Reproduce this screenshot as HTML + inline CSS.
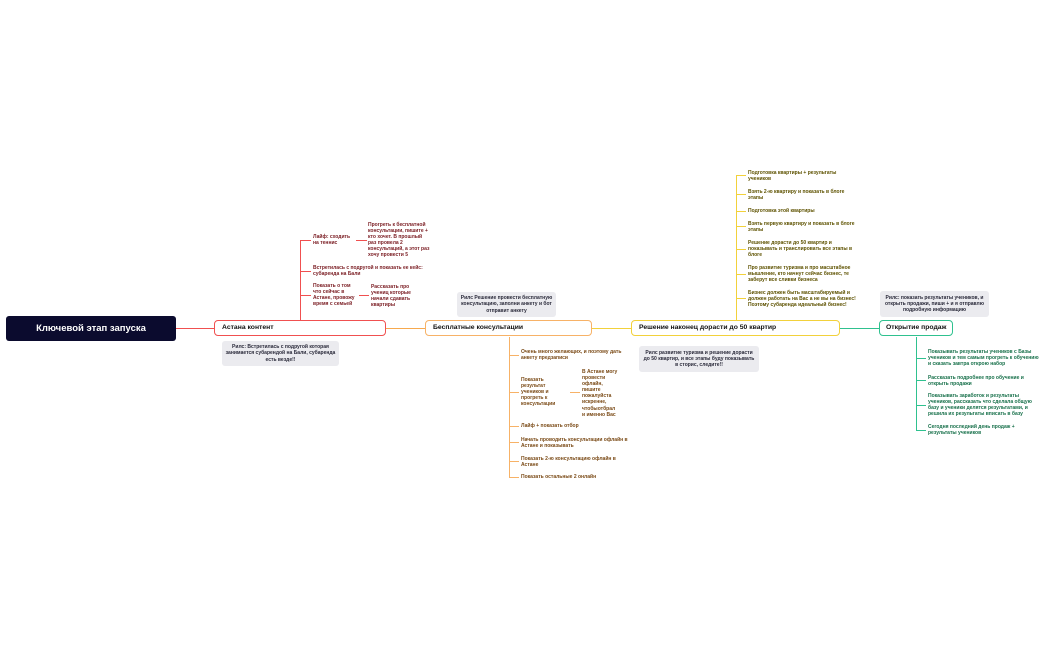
<!DOCTYPE html>
<html><head><meta charset="utf-8"><style>
body{margin:0;width:1049px;height:650px;background:#fff;position:relative;overflow:hidden;font-family:"Liberation Sans","DejaVu Sans",sans-serif}
.a{position:absolute}
.t{position:absolute;font-size:5px;line-height:6.1px;font-weight:bold}
.r{color:#7a1c22}.o{color:#7a4a16}.y{color:#5e5200}.g{color:#17704a}
.n{position:absolute;height:14px;border:1.6px solid;border-radius:4px;background:#fff;font-size:6.8px;font-weight:bold;line-height:14px;padding-left:7px;box-sizing:content-box;color:#111;white-space:nowrap}
.note{position:absolute;background:#ebebef;border-radius:3px;font-size:5px;line-height:6.1px;font-weight:bold;color:#2a2a3a;text-align:center;display:flex;align-items:center;justify-content:center}
.l{position:absolute}
</style></head><body>
<div class="l" style="left:176px;top:328px;width:38px;height:1px;background:#f05050"></div>
<div class="l" style="left:386px;top:328px;width:39px;height:1px;background:#f7a94e"></div>
<div class="l" style="left:592px;top:328px;width:39px;height:1px;background:#f2d13b"></div>
<div class="l" style="left:840px;top:328px;width:39px;height:1px;background:#2fc18f"></div>

<div class="a" style="left:6px;top:316px;width:170px;height:25px;background:#0b0b2e;border-radius:3px;color:#fff;font-size:9.5px;font-weight:bold;line-height:25px;text-align:center">Ключевой этап запуска</div>

<div class="n" style="left:214px;top:320px;width:163px;border-color:#f05050">Астана контент</div>
<div class="n" style="left:425px;top:320px;width:158px;border-color:#f7b267">Бесплатные консультации</div>
<div class="n" style="left:631px;top:320px;width:200px;border-color:#f2d13b">Решение наконец дорасти до 50 квартир</div>
<div class="n" style="left:879px;top:320px;width:66px;padding-left:6px;border-color:#2fc18f">Открытие продаж</div>

<div class="l" style="left:300px;top:240px;width:1px;height:80px;background:#f05050"></div>
<div class="l" style="left:300px;top:240px;width:11px;height:1px;background:#f05050"></div>
<div class="l" style="left:300px;top:271px;width:11px;height:1px;background:#f05050"></div>
<div class="l" style="left:300px;top:295px;width:11px;height:1px;background:#f05050"></div>
<div class="l" style="left:356px;top:240px;width:11px;height:1px;background:#f05050"></div>
<div class="l" style="left:359px;top:295px;width:10px;height:1px;background:#f05050"></div>
<div class="t r" style="left:313px;top:234px">Лайф: сходить<br>на теннис</div>
<div class="t r" style="left:368px;top:222px">Прогреть к бесплатной<br>консультации, пишите +<br>кто хочет. В прошлый<br>раз провела 2<br>консультаций, а этот раз<br>хочу провести 5</div>
<div class="t r" style="left:313px;top:265px">Встретилась с подругой и показать ее кейс:<br>субаренда на Бали</div>
<div class="t r" style="left:313px;top:283px">Показать о том<br>что сейчас в<br>Астане, провожу<br>время с семьей</div>
<div class="t r" style="left:371px;top:284px">Рассказать про<br>учениц которые<br>начали сдавать<br>квартиры</div>
<div class="note" style="left:222px;top:341px;width:117px;height:25px">Рилс: Встретилась с подругой которая<br>занимается субарендой на Бали, субаренда<br>есть везде!!</div>

<div class="note" style="left:457px;top:292px;width:99px;height:25px">Рилс Решение провести бесплатную<br>консультацию, заполни анкету и бот<br>отправит анкету</div>
<div class="l" style="left:509px;top:337px;width:1px;height:141px;background:#f7b267"></div>
<div class="l" style="left:509px;top:355px;width:10px;height:1px;background:#f7b267"></div>
<div class="l" style="left:509px;top:392px;width:10px;height:1px;background:#f7b267"></div>
<div class="l" style="left:509px;top:426px;width:10px;height:1px;background:#f7b267"></div>
<div class="l" style="left:509px;top:442px;width:10px;height:1px;background:#f7b267"></div>
<div class="l" style="left:509px;top:461px;width:10px;height:1px;background:#f7b267"></div>
<div class="l" style="left:509px;top:477px;width:10px;height:1px;background:#f7b267"></div>
<div class="l" style="left:570px;top:392px;width:10px;height:1px;background:#f7b267"></div>
<div class="t o" style="left:521px;top:349px">Очень много желающих, и поэтому дать<br>анкету предзаписи</div>
<div class="t o" style="left:521px;top:377px">Показать<br>результат<br>учеников и<br>прогреть к<br>консультации</div>
<div class="t o" style="left:582px;top:369px">В Астане могу<br>провести<br>офлайн,<br>пишите<br>пожалуйста<br>искренне,<br>чтобыотбрал<br>и именно Вас</div>
<div class="t o" style="left:521px;top:423px">Лайф + показать отбор</div>
<div class="t o" style="left:521px;top:437px">Начать проводить консультации офлайн в<br>Астане и показывать</div>
<div class="t o" style="left:521px;top:456px">Показать 2-ю консультацию офлайн в<br>Астане</div>
<div class="t o" style="left:521px;top:474px">Показать остальные 2 онлайн</div>

<div class="l" style="left:736px;top:175px;width:1px;height:145px;background:#f2d13b"></div>
<div class="l" style="left:736px;top:175px;width:10px;height:1px;background:#f2d13b"></div>
<div class="l" style="left:736px;top:194px;width:10px;height:1px;background:#f2d13b"></div>
<div class="l" style="left:736px;top:211px;width:10px;height:1px;background:#f2d13b"></div>
<div class="l" style="left:736px;top:226px;width:10px;height:1px;background:#f2d13b"></div>
<div class="l" style="left:736px;top:249px;width:10px;height:1px;background:#f2d13b"></div>
<div class="l" style="left:736px;top:274px;width:10px;height:1px;background:#f2d13b"></div>
<div class="l" style="left:736px;top:298px;width:10px;height:1px;background:#f2d13b"></div>
<div class="t y" style="left:748px;top:170px">Подготовка квартиры + результаты<br>учеников</div>
<div class="t y" style="left:748px;top:189px">Взять 2-ю квартиру и показать в блоге<br>этапы</div>
<div class="t y" style="left:748px;top:208px">Подготовка этой квартиры</div>
<div class="t y" style="left:748px;top:221px">Взять первую квартиру и показать в блоге<br>этапы</div>
<div class="t y" style="left:748px;top:240px">Решение дорасти до 50 квартир и<br>показывать и транслировать все этапы в<br>блоге</div>
<div class="t y" style="left:748px;top:265px">Про развитие туризма и про масштабное<br>мышление, кто начнут сейчас бизнес, те<br>заберут все сливки бизнеса</div>
<div class="t y" style="left:748px;top:290px">Бизнес должен быть масштабируемый и<br>должен работать на Вас а не вы на бизнес!<br>Поэтому субаренда идеальный бизнес!</div>
<div class="note" style="left:639px;top:346px;width:120px;height:26px">Рилс развитие туризма и решение дорасти<br>до 50 квартир, и все этапы буду показывать<br>в сторис, следите!!</div>

<div class="note" style="left:880px;top:291px;width:109px;height:26px">Рилс: показать результаты учеников, и<br>открыть продажи, пиши + и я отправлю<br>подробную информацию</div>
<div class="l" style="left:916px;top:337px;width:1px;height:94px;background:#2fc18f"></div>
<div class="l" style="left:916px;top:358px;width:10px;height:1px;background:#2fc18f"></div>
<div class="l" style="left:916px;top:380px;width:10px;height:1px;background:#2fc18f"></div>
<div class="l" style="left:916px;top:405px;width:10px;height:1px;background:#2fc18f"></div>
<div class="l" style="left:916px;top:430px;width:10px;height:1px;background:#2fc18f"></div>
<div class="t g" style="left:928px;top:349px">Показывать результаты учеников с Базы<br>учеников и тем самым прогреть к обучению<br>и сказать завтра открою набор</div>
<div class="t g" style="left:928px;top:375px">Рассказать подробнее про обучение и<br>открыть продажи</div>
<div class="t g" style="left:928px;top:393px">Показывать заработок и результаты<br>учеников, рассказать что сделала общую<br>базу и ученики делятся результатами, и<br>решила их результаты вписать в базу</div>
<div class="t g" style="left:928px;top:424px">Сегодня последний день продаж +<br>результаты учеников</div>
</body></html>
